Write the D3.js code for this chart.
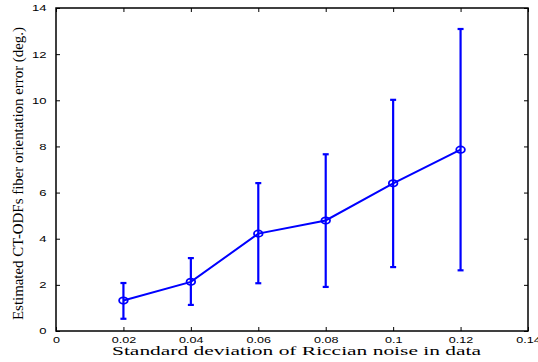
<!DOCTYPE html>
<html><head><meta charset="utf-8">
<script src="https://cdn.jsdelivr.net/npm/d3@7"></script>
<style>body{margin:0;background:#fff}svg{display:block}</style>
</head><body>
<script>
const noise = [0.02, 0.04, 0.06, 0.08, 0.10, 0.12];
const meanErr = [1.32, 2.13, 4.22, 4.79, 6.40, 7.86];
const lowErr = [0.53, 1.13, 2.07, 1.91, 2.77, 2.63];
const highErr = [2.08, 3.16, 6.41, 7.66, 10.02, 13.09];
const xTicks = [0, 0.02, 0.04, 0.06, 0.08, 0.1, 0.12, 0.14];
const xTickLabels = ["0", "0.02", "0.04", "0.06", "0.08", "0.1", "0.12", "0.14"];
const yTicks = [0, 2, 4, 6, 8, 10, 12, 14];
const xTitle = "Standard deviation of Riccian noise in data";
const yTitle = "Estimated CT-ODFs fiber orientation error (deg.)";

const W = 538, H = 362;
const m = {left: 56, right: 10, top: 8, bottom: 31};
const svg = d3.select("body").append("svg").attr("width", W).attr("height", H);
const x = d3.scaleLinear().domain([0, 0.14]).range([m.left, W - m.right]);
const y = d3.scaleLinear().domain([0, 14]).range([H - m.bottom, m.top]);

const tickFont = "Liberation Sans, Arial, sans-serif";
const g = svg.append("g");

const xb = d3.axisBottom(x).tickValues(xTicks).tickFormat((d,i)=>xTickLabels[i]).tickSizeInner(-4).tickSizeOuter(0).tickPadding(6);
const xt = d3.axisTop(x).tickValues(xTicks).tickFormat("").tickSizeInner(-4).tickSizeOuter(0);
const yl = d3.axisLeft(y).tickValues(yTicks).tickSizeInner(-4).tickSizeOuter(0).tickPadding(5);
const yr = d3.axisRight(y).tickValues(yTicks).tickFormat("").tickSizeInner(-4).tickSizeOuter(0);

function styleAxis(sel){
  sel.select(".domain").remove();
  sel.selectAll("line").attr("stroke","#000").attr("stroke-width",1);
  sel.selectAll("text").attr("font-family", tickFont).attr("font-size", 9).attr("fill","#000")
    .attr("font-weight", 500);
}
g.append("g").attr("transform",`translate(0,${y(0)})`).call(xb).call(styleAxis)
  .selectAll("text").attr("transform","scale(1.4,1)");
g.append("g").attr("transform",`translate(0,${y(14)})`).call(xt).call(styleAxis);
g.append("g").attr("transform",`translate(${x(0)},0)`).call(yl).call(styleAxis)
  .selectAll("text").attr("transform","scale(1.45,1)").attr("x", -6.5);
g.append("g").attr("transform",`translate(${x(0.14)},0)`).call(yr).call(styleAxis);

svg.append("rect").attr("x", x(0)).attr("y", y(14)).attr("width", x(0.14)-x(0)).attr("height", y(0)-y(14))
  .attr("fill","none").attr("stroke","#000").attr("stroke-width",1.5);

const blue = "#0000ff";
const data = noise.map((n,i)=>({n, m: meanErr[i], lo: lowErr[i], hi: highErr[i]}));

const eb = svg.append("g").attr("stroke", blue).attr("stroke-width", 2.2).attr("fill","none");
data.forEach(d=>{
  eb.append("line").attr("x1",x(d.n)).attr("x2",x(d.n)).attr("y1",y(d.lo)).attr("y2",y(d.hi));
  eb.append("line").attr("x1",x(d.n)-3).attr("x2",x(d.n)+3).attr("y1",y(d.lo)).attr("y2",y(d.lo));
  eb.append("line").attr("x1",x(d.n)-3).attr("x2",x(d.n)+3).attr("y1",y(d.hi)).attr("y2",y(d.hi));
});

svg.append("path").datum(data)
  .attr("d", d3.line().x(d=>x(d.n)).y(d=>y(d.m)))
  .attr("fill","none").attr("stroke", blue).attr("stroke-width", 2);

svg.append("g").selectAll("ellipse").data(data).join("ellipse")
  .attr("cx", d=>x(d.n)).attr("cy", d=>y(d.m)).attr("rx", 4.3).attr("ry", 3.2)
  .attr("fill","none").attr("stroke", blue).attr("stroke-width", 1.8);

const serif = "Liberation Serif, Times New Roman, serif";
svg.append("text").attr("x", 112).attr("y", 355)
  .attr("font-family", serif).attr("font-size", 11.5)
  .attr("textLength", 369).attr("lengthAdjust", "spacingAndGlyphs").text(xTitle);
svg.append("text").attr("transform", `translate(23,320) rotate(-90)`)
  .attr("font-family", serif).attr("font-size", 14.5)
  .attr("textLength", 293).attr("lengthAdjust", "spacingAndGlyphs").text(yTitle);
</script>
</body></html>
